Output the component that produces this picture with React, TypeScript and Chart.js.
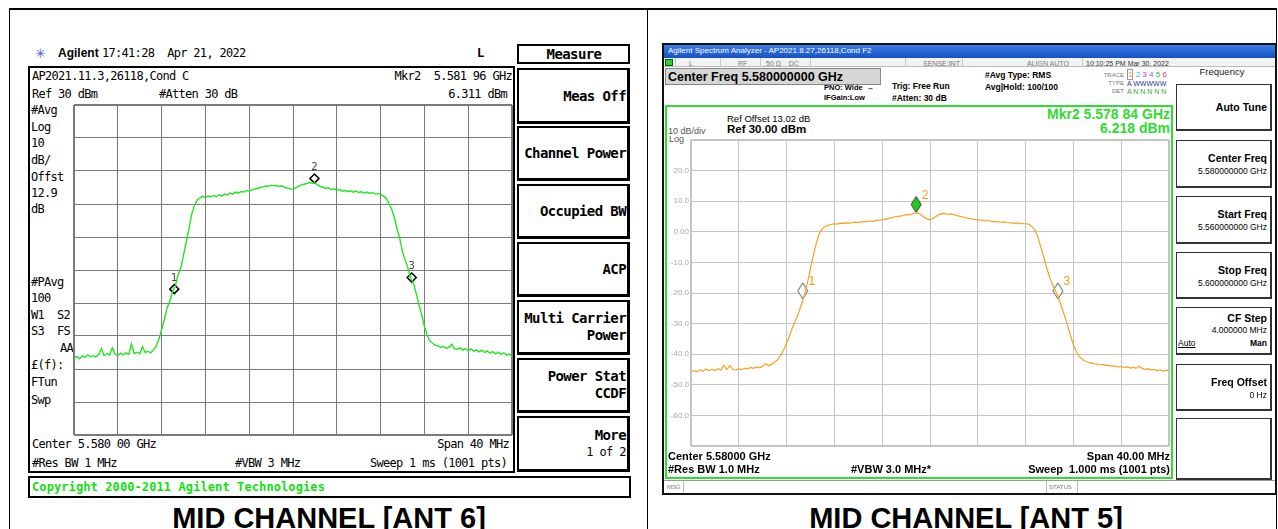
import React, { useEffect, useRef } from "react";
import { Chart, registerables } from "chart.js";
Chart.register(...registerables);

// ---------- DATA ----------
const SWEEP_START_MHZ = 5560;
const SWEEP_STOP_MHZ = 5600;
const REF_LEVEL_DBM = 30;
const BOTTOM_LEVEL_DBM = -70;
const DIV_MHZ = 4;
const DIV_DB = 10;

// ANT 6 (left screen) trace, dBm, evenly spaced over the sweep
const ANT6_TRACE_DBM = [
  -46.8, -46.2, -46.9, -46.0, -46.5, -45.7, -46.3, -45.9, -46.4, -45.6,
  -43.8, -45.9, -45.3, -45.8, -43.6, -45.5, -45.9, -45.2, -45.7, -45.1,
  -45.6, -42.4, -45.3, -44.9, -45.4, -43.2, -45.0, -44.6, -45.1, -44.2,
  -43.2, -41.0, -38.2, -35.0, -31.5, -29.5, -26.5, -25.0, -21.5, -19.5,
  -15.5, -11.5, -7.5, -3.0, -0.5, 1.2, 1.8, 2.3, 1.9, 2.5,
  2.1, 2.6, 2.2, 2.8, 2.4, 3.0, 2.7, 3.3, 3.0, 3.6,
  3.3, 3.8, 3.6, 4.1, 3.9, 4.3, 4.5, 4.7, 5.0, 5.2,
  5.5, 5.3, 5.7, 5.5, 5.6, 5.3, 5.5, 5.0, 4.8, 4.6,
  4.4, 4.9, 5.4, 5.7, 6.0, 6.2, 6.5, 6.3, 6.4, 5.8,
  5.3, 5.0, 4.7, 4.9, 4.4, 4.6, 4.2, 4.4, 3.9, 4.1,
  3.8, 4.0, 3.6, 3.9, 3.5, 3.7, 3.3, 3.6, 3.2, 3.5,
  3.0, 3.2, 2.9, 2.4, 1.8, 0.3, -1.5, -4.0, -7.5, -10.5,
  -14.5, -17.0, -19.5, -22.5, -24.0, -27.0, -30.5, -33.5, -37.0, -39.8,
  -41.5, -42.2, -42.8, -43.0, -43.5, -43.1, -43.8, -43.4, -42.5, -43.9,
  -44.0, -43.6, -44.3, -43.8, -44.5, -43.9, -44.6, -44.2, -44.8, -44.3,
  -45.0, -44.5, -45.2, -44.7, -45.4, -44.9, -45.6, -45.1, -45.8, -45.5,
  -46.2,
];

// ANT 5 (right screen) trace, dBm
const ANT5_TRACE_DBM = [
  -45.9, -45.3, -45.7, -45.0, -45.5, -44.8, -45.4, -44.9, -45.3, -44.7,
  -45.1, -43.6, -45.0, -43.7, -44.9, -45.2, -44.8, -45.0, -44.5, -44.8,
  -44.3, -44.6, -44.1, -44.4, -43.9, -43.1, -43.7, -43.3, -42.6, -41.8,
  -40.4, -38.6, -36.3, -33.9, -31.2, -29.0, -26.5, -23.6, -20.5, -16.5,
  -12.0, -7.5, -3.5, -0.5, 1.0, 1.8, 2.2, 2.4, 2.6, 2.5,
  2.8, 2.7, 2.9, 2.8, 3.0, 3.1, 3.0, 3.3, 3.2, 3.4,
  3.5, 3.4, 3.7, 3.8, 3.9, 4.1, 4.3, 4.5, 4.8, 5.0,
  5.1, 5.3, 5.6, 5.5, 5.8, 6.1, 6.1, 5.5, 4.7, 4.2,
  3.9, 4.3, 5.0, 5.6, 5.9, 5.9, 5.7, 5.8, 5.6, 5.3,
  5.0, 4.8, 4.5, 4.4, 4.2, 4.0, 3.8, 3.9, 3.6, 3.7,
  3.5, 3.3, 3.4, 3.2, 3.1, 3.2, 3.0, 2.9, 2.8, 2.9,
  2.7, 2.6, 2.6, 2.5, 1.8, 0.8, -1.5, -4.6, -8.0, -11.6,
  -14.8, -17.2, -19.3, -21.4, -24.5, -27.3, -30.4, -33.8, -36.9, -39.2,
  -40.8, -41.7, -42.2, -42.6, -42.9, -43.1, -43.2, -43.5, -43.3, -43.7,
  -43.6, -43.9, -43.8, -44.1, -44.0, -44.3, -44.1, -44.5, -44.3, -44.6,
  -43.9, -44.6, -44.9, -44.7, -45.1, -44.9, -45.4, -45.0, -45.5, -45.2,
  -45.3,
];

const MARKER_NAMES = ["1", "2", "3"];
const ANT6_MARKER_MHZ = [5569.16, 5581.96, 5590.84];
const ANT6_MARKER_DBM = [-25.8, 7.7, -22.3];
const ANT5_MARKER_MHZ = [5569.35, 5578.84, 5590.7];
const ANT5_MARKER_DBM = [-19.3, 8.9, -19.3];

const ANT5_Y_TICKS_DB = [20, 10, 0, -10, -20, -30, -40, -50, -60];
const ANT5_Y_TICK_LABELS = ["20.0", "10.0", "0.00", "-10.0", "-20.0", "-30.0", "-40.0", "-50.0", "-60.0"];

// ---------- helpers ----------
const sweep = (vals: number[]) =>
  vals.map((y, i) => ({
    x: SWEEP_START_MHZ + (i * (SWEEP_STOP_MHZ - SWEEP_START_MHZ)) / (vals.length - 1),
    y,
  }));
const pairs = (xs: number[], ys: number[]) => xs.map((x, i) => ({ x, y: ys[i] }));

const MONO = "'DejaVu Sans Mono', monospace";
const SANS = "'Liberation Sans', Arial, sans-serif";

type TP = { x: number; y: number; a?: "l" | "r" | "c"; s?: React.CSSProperties; children?: React.ReactNode };
const T = ({ x, y, a = "l", s, children }: TP) => (
  <div
    style={{
      position: "absolute",
      left: x,
      top: y,
      transform: `translate(${a === "r" ? "-100%" : a === "c" ? "-50%" : "0"}, -50%)`,
      lineHeight: 1,
      whiteSpace: "pre",
      ...s,
    }}
  >
    {children}
  </div>
);
type BP = { x: number; y: number; w: number; h: number; s?: React.CSSProperties; children?: React.ReactNode };
const B = ({ x, y, w, h, s, children }: BP) => (
  <div style={{ position: "absolute", left: x, top: y, width: w, height: h, boxSizing: "border-box", ...s }}>{children}</div>
);

function makeDiamond(fill: string, stroke: string) {
  const c = document.createElement("canvas");
  c.width = 12;
  c.height = 18;
  const g = c.getContext("2d")!;
  g.beginPath();
  g.moveTo(6, 1);
  g.lineTo(11, 9);
  g.lineTo(6, 17);
  g.lineTo(1, 9);
  g.closePath();
  g.fillStyle = fill;
  g.fill();
  g.lineWidth = 1;
  g.strokeStyle = stroke;
  g.stroke();
  return c;
}

function labelPlugin(color: string, font: string, dx: number, dy: number) {
  return {
    id: "markerLabels",
    afterDatasetsDraw(chart: any) {
      const meta = chart.getDatasetMeta(1);
      const ctx = chart.ctx;
      ctx.save();
      ctx.fillStyle = color;
      ctx.font = font;
      ctx.textAlign = "center";
      ctx.textBaseline = "middle";
      meta.data.forEach((pt: any, i: number) => {
        ctx.fillText(MARKER_NAMES[i], pt.x + dx, pt.y + dy);
      });
      ctx.restore();
    },
  };
}

export default function App() {
  const leftRef = useRef<HTMLCanvasElement>(null);
  const rightRef = useRef<HTMLCanvasElement>(null);

  useEffect(() => {
    document.body.style.margin = "0";
    const edgeW = (min: number, max: number, inner: number, edge: number) => (ctx: any) =>
      ctx.tick && (ctx.tick.value === min || ctx.tick.value === max) ? edge : inner;

    const left = new Chart(leftRef.current!, {
      type: "line",
      data: {
        datasets: [
          {
            data: sweep(ANT6_TRACE_DBM),
            borderColor: "#22e622",
            borderWidth: 1.4,
            pointRadius: 0,
            tension: 0,
          },
          {
            data: pairs(ANT6_MARKER_MHZ, ANT6_MARKER_DBM),
            showLine: false,
            pointStyle: "rectRot",
            pointRadius: 4.5,
            borderColor: "#000",
            borderWidth: 1.5,
            backgroundColor: "rgba(255,255,255,0)",
          },
        ],
      },
      options: {
        animation: false,
        responsive: false,
        devicePixelRatio: 1,
        layout: { padding: 1, autoPadding: false },
        plugins: { legend: { display: false }, tooltip: { enabled: false } },
        scales: {
          x: {
            type: "linear",
            min: SWEEP_START_MHZ,
            max: SWEEP_STOP_MHZ,
            ticks: { display: false, stepSize: DIV_MHZ },
            grid: { color: "#7a7a7a", drawTicks: false, lineWidth: edgeW(SWEEP_START_MHZ, SWEEP_STOP_MHZ, 1, 2) },
            border: { display: false },
            afterFit: (s: any) => { s.height = 0; },
          },
          y: {
            min: BOTTOM_LEVEL_DBM,
            max: REF_LEVEL_DBM,
            ticks: { display: false, stepSize: DIV_DB },
            grid: { color: "#7a7a7a", drawTicks: false, lineWidth: edgeW(BOTTOM_LEVEL_DBM, REF_LEVEL_DBM, 1, 2) },
            border: { display: false },
            afterFit: (s: any) => { s.width = 0; },
          },
        },
      },
      plugins: [labelPlugin("#444", "10px 'DejaVu Sans'", 0, -11)],
    } as any);

    const white = makeDiamond("#ffffff", "#555");
    const green = makeDiamond("#22cc22", "#333");
    const right = new Chart(rightRef.current!, {
      type: "line",
      data: {
        datasets: [
          {
            data: sweep(ANT5_TRACE_DBM),
            borderColor: "#f6a21e",
            borderWidth: 1.2,
            pointRadius: 0,
            tension: 0,
          },
          {
            data: pairs(ANT5_MARKER_MHZ, ANT5_MARKER_DBM),
            showLine: false,
            pointStyle: [white, green, white],
            pointRadius: 8,
          },
        ],
      },
      options: {
        animation: false,
        responsive: false,
        devicePixelRatio: 1,
        layout: { padding: { top: 6, bottom: 6, left: 0, right: 3 }, autoPadding: false },
        plugins: { legend: { display: false }, tooltip: { enabled: false } },
        scales: {
          x: {
            type: "linear",
            min: SWEEP_START_MHZ,
            max: SWEEP_STOP_MHZ,
            ticks: { display: false, stepSize: DIV_MHZ },
            grid: { color: "#c4c4c4", drawTicks: false, lineWidth: edgeW(SWEEP_START_MHZ, SWEEP_STOP_MHZ, 1, 2) },
            border: { display: false },
            afterFit: (s: any) => { s.height = 0; },
          },
          y: {
            min: BOTTOM_LEVEL_DBM,
            max: REF_LEVEL_DBM,
            ticks: {
              stepSize: DIV_DB,
              padding: 2,
              color: "#a8a8a8",
              font: { family: "'Liberation Sans', Arial", size: 8 },
              callback: (v: any) => {
                const k = ANT5_Y_TICKS_DB.indexOf(Number(v));
                return k >= 0 ? ANT5_Y_TICK_LABELS[k] : "";
              },
            },
            grid: { color: "#c4c4c4", drawTicks: false, lineWidth: edgeW(BOTTOM_LEVEL_DBM, REF_LEVEL_DBM, 1, 2) },
            border: { display: false },
            afterFit: (s: any) => { s.width = 27; },
          },
        },
      },
      plugins: [labelPlugin("#f39c12", "12px 'Liberation Sans'", 9, -9)],
    } as any);

    return () => {
      left.destroy();
      right.destroy();
    };
  }, []);

  const mono12: React.CSSProperties = { fontFamily: MONO, fontSize: 12, letterSpacing: "-0.7px", color: "#000" };
  const keyFont: React.CSSProperties = { fontFamily: MONO, fontSize: 14, fontWeight: "bold", letterSpacing: "-0.6px" };

  const leftKeys: { y: number; h: number; l: string[] }[] = [
    { y: 68, h: 56, l: ["Meas Off"] },
    { y: 126, h: 55, l: ["Channel Power"] },
    { y: 184, h: 55, l: ["Occupied BW"] },
    { y: 242, h: 55, l: ["ACP"] },
    { y: 300, h: 55, l: ["Multi Carrier", "Power"] },
    { y: 358, h: 55, l: ["Power Stat", "CCDF"] },
    { y: 416, h: 56, l: ["More", "1 of 2"] },
  ];
  const leftCol: [string, number][] = [
    ["#Avg", 110], ["Log", 127], ["10", 143], ["dB/", 160], ["Offst", 177], ["12.9", 193], ["dB", 209],
    ["#PAvg", 282], ["100", 298], ["W1  S2", 315], ["S3  FS", 331], ["£(f):", 365], ["FTun", 382], ["Swp", 400],
  ];

  const rightKeys: { y: number; h: number; t: string; v?: string; mid?: boolean; cf?: boolean }[] = [
    { y: 84, h: 47, t: "Auto Tune", mid: true },
    { y: 140, h: 48, t: "Center Freq", v: "5.580000000 GHz" },
    { y: 196, h: 48, t: "Start Freq", v: "5.560000000 GHz" },
    { y: 252, h: 47, t: "Stop Freq", v: "5.600000000 GHz" },
    { y: 307, h: 48, t: "CF Step", v: "4.000000 MHz", cf: true },
    { y: 364, h: 47, t: "Freq Offset", v: "0 Hz" },
    { y: 418, h: 62, t: "" },
  ];
  const tiny: React.CSSProperties = { fontFamily: SANS, fontSize: 7, color: "#777" };
  const rb: React.CSSProperties = { fontFamily: SANS, fontSize: 11, fontWeight: "bold", color: "#000" };
  const statusSeps = [675, 720, 760, 810, 905, 962, 1082];

  return (
    <div style={{ position: "relative", width: 1278, height: 529, overflow: "hidden", background: "#fff", fontFamily: SANS }}>
      {/* table frame */}
      <B x={9} y={8} w={1268} h={2} s={{ background: "#000" }} />
      <B x={9} y={8} w={1} h={521} s={{ background: "#000" }} />
      <B x={647} y={8} w={1} h={521} s={{ background: "#000" }} />
      <B x={1276} y={8} w={1} h={521} s={{ background: "#000" }} />

      {/* ================= LEFT SCREEN ================= */}
      <T x={35} y={53} s={{ color: "#4b5bd6", fontSize: 13 }}>✳</T>
      <T x={58} y={53} s={{ fontFamily: SANS, fontWeight: "bold", fontSize: 12 }}>Agilent</T>
      <T x={102} y={53} s={mono12}>17:41:28  Apr 21, 2022</T>
      <T x={477} y={53} s={{ ...mono12, fontWeight: "bold" }}>L</T>

      <B x={28} y={66} w={487} h={407} s={{ border: "2px solid #000" }} />
      <T x={32} y={76} s={mono12}>AP2021.11.3,26118,Cond C</T>
      <T x={512} y={76} a="r" s={mono12}>Mkr2  5.581 96 GHz</T>
      <T x={32} y={94} s={mono12}>Ref 30 dBm</T>
      <T x={159} y={94} s={mono12}>#Atten 30 dB</T>
      <T x={507} y={94} a="r" s={mono12}>6.311 dBm</T>
      {leftCol.map(([t, y]) => (
        <T key={t} x={31} y={y} s={mono12}>{t}</T>
      ))}
      <T x={73} y={348} a="r" s={mono12}>AA</T>
      <canvas
        ref={leftRef}
        width={440}
        height={332}
        style={{ position: "absolute", left: 73, top: 104, width: 440, height: 332 }}
      />
      <T x={32} y={444} s={mono12}>Center 5.580 00 GHz</T>
      <T x={509} y={444} a="r" s={mono12}>Span 40 MHz</T>
      <T x={32} y={463} s={mono12}>#Res BW 1 MHz</T>
      <T x={235} y={463} s={mono12}>#VBW 3 MHz</T>
      <T x={507} y={463} a="r" s={mono12}>Sweep 1 ms (1001 pts)</T>

      <B x={28} y={476} w={603} h={22} s={{ border: "2px solid #000" }} />
      <T x={32} y={487} s={{ fontFamily: MONO, fontSize: 12, fontWeight: "bold", color: "#12e012", letterSpacing: "0.1px" }}>
        Copyright 2000-2011 Agilent Technologies
      </T>

      <B x={517} y={44} w={113} h={20} s={{ border: "2px solid #000" }} />
      <T x={574} y={54} a="c" s={keyFont}>Measure</T>
      {leftKeys.map((k) => (
        <B key={k.l[0]} x={517} y={k.y} w={113} h={k.h} s={{ border: "2px solid #000", borderRightWidth: 3, borderBottomWidth: 3 }}>
          <div
            style={{
              position: "absolute",
              right: 1,
              top: "50%",
              transform: "translateY(-50%)",
              textAlign: "right",
              whiteSpace: "pre",
              lineHeight: "17px",
            }}
          >
            {k.l.map((ln, i) => (
              <div key={i} style={i === 1 && k.l[0] === "More" ? { fontFamily: MONO, fontSize: 12, letterSpacing: "-0.6px" } : keyFont}>
                {ln}
              </div>
            ))}
          </div>
        </B>
      ))}

      {/* ================= RIGHT SCREEN ================= */}
      <B x={662} y={43} w={615} h={452} s={{ border: "2px solid #111" }} />
      <B x={664} y={45} w={611} h={13} s={{ background: "linear-gradient(#3b7de6, #1651c4)" }} />
      <T x={668} y={51} s={{ fontFamily: SANS, fontSize: 8, color: "#fff" }}>Agilent Spectrum Analyzer - AP2021.8.27,26118,Cond F2</T>
      <B x={664} y={58} w={611} h={9} s={{ background: "#f2f2f2", borderBottom: "1px solid #bbb" }} />
      {statusSeps.map((x) => (
        <B key={x} x={x} y={58} w={1} h={9} s={{ background: "#c8c8c8" }} />
      ))}
      <B x={665} y={59} w={8} h={7} s={{ background: "#3c3", border: "1px solid #060" }} />
      <T x={689} y={63} s={tiny}>L</T>
      <T x={738} y={63} s={tiny}>RF</T>
      <T x={766} y={63} s={tiny}>50 Ω    DC</T>
      <T x={923} y={63} s={tiny}>SENSE:INT</T>
      <T x={1027} y={63} s={tiny}>ALIGN AUTO</T>
      <T x={1086} y={63} s={{ ...tiny, color: "#333" }}>10:10:25 PM Mar 30, 2022</T>

      <B x={665} y={68} w={216} h={17} s={{ background: "#d6d6d6", border: "1px solid #888" }} />
      <T x={668} y={77} s={{ fontFamily: SANS, fontWeight: "bold", fontSize: 12.5 }}>Center Freq 5.580000000 GHz</T>
      <T x={824} y={88} s={{ fontFamily: SANS, fontWeight: "bold", fontSize: 7.5 }}>PNO: Wide  ↔</T>
      <T x={824} y={98} s={{ fontFamily: SANS, fontWeight: "bold", fontSize: 7.5 }}>IFGain:Low</T>
      <T x={892} y={86} s={{ fontFamily: SANS, fontWeight: "bold", fontSize: 8.5 }}>Trig: Free Run</T>
      <T x={892} y={98} s={{ fontFamily: SANS, fontWeight: "bold", fontSize: 8.5 }}>#Atten: 30 dB</T>
      <T x={985} y={75} s={{ fontFamily: SANS, fontWeight: "bold", fontSize: 8.5 }}>#Avg Type: RMS</T>
      <T x={985} y={87} s={{ fontFamily: SANS, fontWeight: "bold", fontSize: 8.5 }}>Avg|Hold: 100/100</T>
      <T x={1124} y={75} a="r" s={{ ...tiny, fontSize: 6 }}>TRACE</T>
      <T x={1124} y={83} a="r" s={{ ...tiny, fontSize: 6 }}>TYPE</T>
      <T x={1124} y={91} a="r" s={{ ...tiny, fontSize: 6 }}>DET</T>
      <T x={1127} y={75} s={{ fontFamily: SANS, fontSize: 8 }}>
        <span style={{ color: "#e8a000", border: "1px solid #999" }}>1</span>{" "}
        <span style={{ color: "#18c0e0" }}>2</span> <span style={{ color: "#e020e0" }}>3</span>{" "}
        <span style={{ color: "#9060e0" }}>4</span> <span style={{ color: "#20c020" }}>5</span>{" "}
        <span style={{ color: "#e04080" }}>6</span>
      </T>
      <T x={1127} y={83} s={{ fontFamily: SANS, fontSize: 7, color: "#339" }}>A WWWWW</T>
      <T x={1127} y={91} s={{ fontFamily: SANS, fontSize: 7, color: "#3a3" }}>A N N N N N</T>

      <B x={665} y={105} w={508} h={374} s={{ border: "2px solid #2ee02e" }} />
      <T x={727} y={119} s={{ fontFamily: SANS, fontSize: 9.5 }}>Ref Offset 13.02 dB</T>
      <T x={727} y={130} s={{ fontFamily: SANS, fontSize: 11.5, fontWeight: "bold" }}>Ref 30.00 dBm</T>
      <T x={668} y={131} s={{ fontFamily: SANS, fontSize: 9, color: "#555" }}>10 dB/div</T>
      <T x={669} y={139} s={{ fontFamily: SANS, fontSize: 9, color: "#555" }}>Log</T>
      <T x={1170} y={114} a="r" s={{ fontFamily: SANS, fontSize: 14, fontWeight: "bold", color: "#2fdc2f" }}>Mkr2 5.578 84 GHz</T>
      <T x={1170} y={128} a="r" s={{ fontFamily: SANS, fontSize: 14, fontWeight: "bold", color: "#2fdc2f" }}>6.218 dBm</T>

      <canvas
        ref={rightRef}
        width={508}
        height={320}
        style={{ position: "absolute", left: 664, top: 133, width: 508, height: 320 }}
      />

      <T x={668} y={456} s={rb}>Center 5.58000 GHz</T>
      <T x={1170} y={456} a="r" s={rb}>Span 40.00 MHz</T>
      <T x={668} y={469} s={rb}>#Res BW 1.0 MHz</T>
      <T x={851} y={469} s={rb}>#VBW 3.0 MHz*</T>
      <T x={1170} y={469} a="r" s={rb}>Sweep  1.000 ms (1001 pts)</T>

      <B x={664} y={480} w={611} h={13} s={{ borderTop: "1px solid #999", background: "#fff" }} />
      <B x={683} y={481} w={1} h={12} s={{ background: "#bbb" }} />
      <B x={1046} y={481} w={1} h={12} s={{ background: "#bbb" }} />
      <B x={1077} y={481} w={1} h={12} s={{ background: "#bbb" }} />
      <T x={667} y={487} s={{ ...tiny, fontSize: 6 }}>MSG</T>
      <T x={1049} y={487} s={{ ...tiny, fontSize: 6 }}>STATUS</T>

      <T x={1222} y={72} a="c" s={{ fontFamily: SANS, fontSize: 9.5, color: "#222" }}>Frequency</T>
      {rightKeys.map((k, i) => (
        <B key={i} x={1176} y={k.y} w={96} h={k.h} s={{ border: "1px solid #333", borderRightWidth: 2, borderBottomWidth: 2 }}>
          {k.mid && (
            <div style={{ position: "absolute", right: 3, top: "50%", transform: "translateY(-50%)", fontWeight: "bold", fontSize: 10.5 }}>
              {k.t}
            </div>
          )}
          {!k.mid && k.t && (
            <>
              <div style={{ position: "absolute", right: 3, top: k.cf ? 4 : 11, fontWeight: "bold", fontSize: 10.5, whiteSpace: "pre" }}>{k.t}</div>
              <div style={{ position: "absolute", right: 3, top: k.cf ? 17 : 25, fontSize: 8.5, whiteSpace: "pre" }}>{k.v}</div>
              {k.cf && (
                <>
                  <div style={{ position: "absolute", left: 1, top: 30, fontSize: 8.5, textDecoration: "underline" }}>Auto</div>
                  <div style={{ position: "absolute", right: 3, top: 30, fontSize: 8.5, fontWeight: "bold" }}>Man</div>
                </>
              )}
            </>
          )}
        </B>
      ))}

      {/* captions */}
      <T x={329} y={518} a="c" s={{ fontFamily: SANS, fontWeight: "bold", fontSize: 29, color: "#000" }}>MID CHANNEL [ANT 6]</T>
      <T x={966} y={518} a="c" s={{ fontFamily: SANS, fontWeight: "bold", fontSize: 29, color: "#000" }}>MID CHANNEL [ANT 5]</T>
    </div>
  );
}
